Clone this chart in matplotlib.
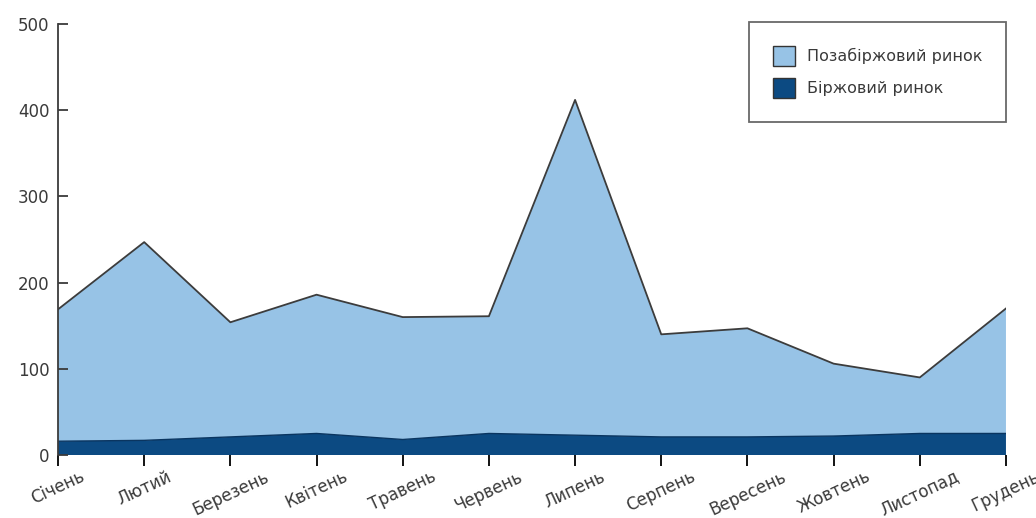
import matplotlib
matplotlib.use('Agg')
import matplotlib.pyplot as plt
import numpy as np

months = ['Січень', 'Лютий', 'Березень', 'Квітень', 'Травень', 'Червень',
          'Липень', 'Серпень', 'Вересень', 'Жовтень', 'Листопад', 'Грудень']
# біржовий ринок (нижній шар)
birzh = [16, 17, 21, 25, 18, 25, 23, 21, 21, 22, 25, 25]
# загальний обсяг (верхня межа)
total = [169, 247, 154, 186, 160, 161, 412, 140, 147, 106, 90, 170]
pozabirzh = [t - b for t, b in zip(total, birzh)]

c_light = '#97c3e6'
c_dark = '#0c4a82'
c_text = '#3a3a3a'

fig = plt.figure(figsize=(10.36, 5.18), dpi=100)
ax = fig.add_axes([0.056, 0.1216, 0.915, 0.832])

x = np.arange(len(months))
polys = ax.stackplot(x, birzh, pozabirzh, colors=[c_dark, c_light],
                     labels=['Біржовий ринок', 'Позабіржовий ринок'])
ax.plot(x, total, color='#3c3c3c', lw=1.3)
ax.plot(x, birzh, color='#0a3560', lw=1.0)

ax.set_xlim(0, len(months) - 1)
ax.set_ylim(0, 500)
ax.set_yticks([0, 100, 200, 300, 400, 500])
ax.set_xticks(x)
ax.set_xticklabels(months, rotation=25, ha='center', fontsize=12, color=c_text)
ax.tick_params(axis='y', direction='in', length=7, width=1.3, labelsize=12,
               colors=c_text, pad=6)
ax.tick_params(axis='x', direction='out', length=8, width=1.3, pad=1)
for s in ['top', 'right']:
    ax.spines[s].set_visible(False)
ax.spines['left'].set_linewidth(1.3)
ax.spines['left'].set_color('#3c3c3c')
ax.spines['bottom'].set_visible(False)

handles, labels = ax.get_legend_handles_labels()
leg = ax.legend(handles[::-1], labels[::-1], loc='upper right',
                bbox_to_anchor=(1.0, 1.005), fontsize=11.5, fancybox=False,
                edgecolor='#444444', handlelength=1.4, handleheight=1.6,
                handletextpad=0.7, borderpad=1.5, labelspacing=0.7,
                borderaxespad=0.0)
leg.get_frame().set_linewidth(1.3)
for h in leg.legend_handles:
    h.set_edgecolor('#333333')
    h.set_linewidth(1.0)
for t in leg.get_texts():
    t.set_color(c_text)

fig.savefig('out.png', dpi=100)
